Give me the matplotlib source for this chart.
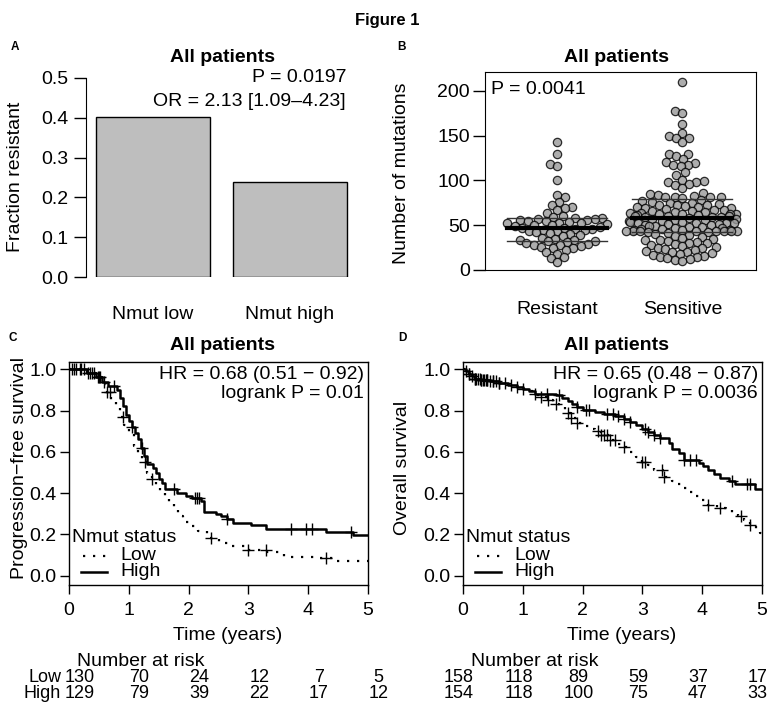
import numpy as np
import matplotlib
matplotlib.use('Agg')
import matplotlib.pyplot as plt
from matplotlib.lines import Line2D

plt.rcParams['font.family'] = ['Liberation Sans', 'DejaVu Sans']

W, H = 774, 713

# ---- panel A: fraction resistant
groups_a = ['Nmut low', 'Nmut high']
frac_resistant = [0.402, 0.239]

# ---- panel B: number of mutations per patient
mut_resistant = [143, 129, 118, 116, 101, 84, 81, 76, 73, 70, 69, 67, 64, 60, 59, 58,
                 58, 57, 57, 56, 56, 55, 55, 54, 53, 52, 52, 51, 50, 50, 49, 48, 47,
                 47, 46, 46, 45, 45, 44, 43, 42, 41, 40, 39, 38, 36, 35, 34, 33, 32,
                 32, 31, 30, 29, 28, 28, 27, 26, 25, 24, 22, 20, 18, 14, 13, 9]
mut_sensitive = [210, 178, 175, 163, 153, 150, 147, 147, 143, 130, 130, 127, 124,
                 120, 119, 117, 117, 116, 109, 106, 101, 99, 98, 98, 96, 95, 92,
                 86, 85, 84, 83, 82, 82, 81, 81, 80,
                 78, 77, 76, 75, 75, 74, 73, 73, 72, 71, 70, 70, 69, 69, 68, 67, 67,
                 66, 66, 65, 65, 64, 64, 63, 63, 62, 62, 61, 61, 60, 60, 60, 59, 59,
                 59, 58,
                 57, 57, 56, 56, 55, 55, 54, 54, 53, 53, 52, 52, 51, 51, 50, 50, 49,
                 49, 48, 48, 47, 47, 46, 46, 45, 45, 45, 44, 44, 44, 43, 43, 43, 43, 43,
                 42, 42, 41, 40, 39, 38, 37, 36, 35, 34, 33, 32, 31, 30, 30, 29, 28,
                 27, 26, 25, 24, 23, 22, 21, 20, 20, 19, 18, 17, 16, 15, 14, 13, 12,
                 11, 10]
groups_b = ['Resistant', 'Sensitive']

# ---- panel C: progression-free survival (step times / survival after step)
pfs_low_t = [0, 0.3, 0.45, 0.55, 0.62, 0.7, 0.78, 0.85, 0.92, 1.0, 1.08, 1.15, 1.22,
             1.3, 1.38, 1.45, 1.52, 1.6, 1.68, 1.75, 1.82, 1.9, 2.0, 2.15, 2.3, 2.5,
             2.7, 2.95, 3.3, 3.6, 4.2, 4.45]
pfs_low_s = [1.0, 0.98, 0.96, 0.93, 0.89, 0.85, 0.81, 0.77, 0.73, 0.69, 0.63, 0.59,
             0.55, 0.50, 0.47, 0.44, 0.41, 0.38, 0.35, 0.32, 0.29, 0.26, 0.24, 0.215,
             0.185, 0.16, 0.145, 0.125, 0.115, 0.093, 0.085, 0.072]
pfs_low_cens = [0.08, 0.2, 0.35, 0.5, 0.63, 0.68, 0.91, 1.27, 1.39, 2.37, 3.0, 3.29, 4.3]
pfs_high_t = [0, 0.3, 0.45, 0.55, 0.65, 0.8, 0.85, 0.9, 0.95, 1.0, 1.05, 1.1, 1.15,
              1.2, 1.25, 1.3, 1.4, 1.45, 1.5, 1.55, 1.6, 1.8, 1.95, 2.05, 2.2, 2.25,
              2.45, 2.55, 2.65, 2.75, 3.05, 3.3, 4.3, 4.75]
pfs_high_s = [1.0, 0.98, 0.96, 0.94, 0.92, 0.90, 0.86, 0.82, 0.78, 0.75, 0.72, 0.69,
              0.66, 0.62, 0.58, 0.54, 0.52, 0.50, 0.47, 0.45, 0.42, 0.40, 0.385, 0.375,
              0.36, 0.31, 0.30, 0.29, 0.275, 0.255, 0.245, 0.225, 0.21, 0.197]
pfs_high_cens = [0.05, 0.12, 0.18, 0.25, 0.32, 0.38, 0.42, 0.48, 0.52, 0.58, 0.75,
                 1.05, 1.22, 1.75, 2.1, 2.14, 2.18, 2.65, 3.72, 3.97, 4.06, 4.72]
risk_pfs_low = [130, 70, 24, 12, 7, 5]
risk_pfs_high = [129, 79, 39, 22, 17, 12]

# ---- panel D: overall survival
os_low_t = [0, 0.05, 0.1, 0.15, 0.2, 0.3, 0.45, 0.6, 0.75, 0.9, 1.0, 1.1, 1.2, 1.3,
            1.4, 1.5, 1.6, 1.7, 1.8, 1.9, 2.0, 2.1, 2.2, 2.3, 2.45, 2.6, 2.7, 2.8,
            2.9, 3.0, 3.1, 3.2, 3.35, 3.5, 3.6, 3.7, 3.8, 3.9, 4.0, 4.1, 4.25, 4.4,
            4.5, 4.6, 4.7, 4.8, 4.9, 4.97]
os_low_s = [1.0, 0.99, 0.975, 0.965, 0.955, 0.95, 0.945, 0.935, 0.925, 0.915, 0.905,
            0.895, 0.875, 0.865, 0.85, 0.83, 0.815, 0.79, 0.765, 0.74, 0.725, 0.712,
            0.70, 0.68, 0.655, 0.64, 0.625, 0.60, 0.575, 0.55, 0.535, 0.51, 0.48,
            0.46, 0.445, 0.425, 0.405, 0.385, 0.365, 0.345, 0.33, 0.32, 0.305, 0.29,
            0.27, 0.245, 0.225, 0.205]
os_low_cens = [0.1, 0.2, 0.3, 0.4, 0.5, 0.6, 1.3, 1.42, 1.55, 1.75, 1.8, 1.9, 2.25,
               2.3, 2.35, 2.4, 2.45, 2.55, 2.7, 3.0, 3.04, 3.32, 3.36, 4.1, 4.3, 4.65,
               4.8]
os_high_t = [0, 0.05, 0.1, 0.15, 0.2, 0.3, 0.45, 0.6, 0.75, 0.9, 1.0, 1.1, 1.2, 1.55,
             1.65, 1.75, 1.82, 1.9, 2.0, 2.2, 2.35, 2.55, 2.7, 2.8, 2.9, 3.0, 3.1, 3.2,
             3.3, 3.45, 3.5, 3.62, 3.7, 3.95, 4.02, 4.1, 4.2, 4.3, 4.45, 4.55, 4.88]
os_high_s = [1.0, 0.99, 0.975, 0.965, 0.955, 0.95, 0.945, 0.935, 0.925, 0.915, 0.905,
             0.895, 0.88, 0.875, 0.86, 0.845, 0.83, 0.815, 0.805, 0.795, 0.785, 0.775,
             0.76, 0.745, 0.73, 0.71, 0.695, 0.68, 0.665, 0.645, 0.615, 0.595, 0.56,
             0.545, 0.53, 0.51, 0.495, 0.475, 0.46, 0.445, 0.42]
os_high_cens = [0.05, 0.1, 0.15, 0.2, 0.22, 0.25, 0.28, 0.3, 0.33, 0.35, 0.38, 0.4,
                0.45, 0.5, 0.55, 0.6, 0.7, 0.8, 0.9, 1.0, 1.2, 1.4, 1.6, 1.9, 2.05,
                2.1, 2.4, 2.5, 2.6, 2.7, 2.8, 3.05, 3.1, 3.2, 3.3, 3.7, 3.8, 3.9, 4.5,
                4.75, 4.8]
risk_os_low = [158, 118, 89, 59, 37, 17]
risk_os_high = [154, 118, 100, 75, 47, 33]
risk_times = [0, 1, 2, 3, 4, 5]

FS = 14
fig = plt.figure(figsize=(W / 100, H / 100), dpi=100)


def T(x, y, s, **kw):
    kw.setdefault('va', 'center')
    kw.setdefault('fontsize', FS)
    return fig.text(x / W, 1 - y / H, s, **kw)


def axes_px(l, t, r, b):
    return fig.add_axes([l / W, 1 - b / H, (r - l) / W, (b - t) / H])


def swarm(vals, center, d, kx, ky, corral):
    """beeswarm: each point as close to the centre as it can, then
    points outside the corral wrap back inside it"""
    ypx = np.asarray(vals, float) * ky
    xs = np.zeros(len(ypx))
    px_, py_ = [], []
    for i in np.argsort(ypx, kind='stable'):
        y = ypx[i]
        cands = [0.0]
        for a, b in zip(px_, py_):
            dy = abs(b - y)
            if dy < d:
                dx = np.sqrt(d * d - dy * dy)
                cands += [a - dx, a + dx]
        cands.sort(key=abs)
        for c in cands:
            if all((c - a) ** 2 + (y - b) ** 2 >= d * d - 1e-6 for a, b in zip(px_, py_)):
                break
        xs[i] = c
        px_.append(c)
        py_.append(y)
    xs = np.mod(xs + corral, 2 * corral) - corral
    return center + xs / kx


T(387, 20, 'Figure 1', ha='center', fontsize=12, fontweight='bold')
for lab, x, y in [('A', 15, 47), ('B', 402, 47), ('C', 13, 338), ('D', 402, 338)]:
    T(x, y, lab, ha='center', fontsize=8.5, fontweight='bold')

# ---------------- A
ax = axes_px(86, 78, 357, 277)
xpos = [0.7, 1.9]
ax.bar(xpos, frac_resistant, width=1.0, color='#bebebe', edgecolor='black', lw=1)
ax.set_xlim(0.112, 2.488)
ax.set_ylim(0, 0.5)
for s in ['top', 'right', 'bottom']:
    ax.spines[s].set_visible(False)
ax.spines['left'].set_bounds(0, 0.5)
ax.set_yticks(np.arange(0, 0.51, 0.1))
ax.set_yticklabels(['%.1f' % v for v in np.arange(0, 0.51, 0.1)])
ax.set_xticks(xpos)
ax.set_xticklabels(groups_a)
ax.tick_params(axis='y', length=9, width=1, pad=3.5, labelsize=FS)
ax.tick_params(axis='x', length=0, pad=21, labelsize=FS)
ax.patch.set_visible(False)
T(222, 57, 'All patients', ha='center', fontweight='bold')
T(346, 78, 'P = 0.0197', ha='right')
T(346, 102, 'OR = 2.13 [1.09–4.23]', ha='right')
T(16, 177, 'Fraction resistant', ha='center', rotation=90)

# ---------------- B
ax = axes_px(485, 72, 756, 270)
ax.set_xlim(0.42, 2.59)
ax.set_ylim(0, 221)
kx = 271 / (2.59 - 0.42)
ky = 198 / 221
for k, vals in enumerate([mut_resistant, mut_sensitive]):
    xs = swarm(vals, k + 1, 7.6, kx, ky, 0.45 * kx)
    ax.scatter(xs, vals, s=36, facecolor='#999999', edgecolor='black', lw=0.9,
               alpha=0.8, zorder=2)
    q1, med, q3 = np.percentile(vals, [25, 50, 75])
    ax.plot([k + 0.6, k + 1.4], [q1, q1], color='#333333', lw=1, zorder=3)
    ax.plot([k + 0.6, k + 1.4], [q3, q3], color='#333333', lw=1, zorder=3)
    ax.plot([k + 0.6, k + 1.4], [med, med], color='black', lw=3, zorder=3)
ax.set_yticks([0, 50, 100, 150, 200])
ax.set_xticks([1, 2])
ax.set_xticklabels(groups_b)
ax.tick_params(axis='y', length=8.6, width=1, pad=2.2, labelsize=FS)
ax.tick_params(axis='x', length=0, pad=22, labelsize=FS)
T(617, 57, 'All patients', ha='center', fontweight='bold')
T(491, 90, 'P = 0.0041', ha='left')
T(402, 173, 'Number of mutations', ha='center', rotation=90)


# ---------------- C & D
def km(ax, t, s, cens, style):
    t = np.asarray(list(t) + [5.0])
    s = np.asarray(list(s) + [s[-1]])
    ax.plot(t, s, drawstyle='steps-post', color='black', **style)
    idx = np.searchsorted(t, cens, side='right') - 1
    ax.plot(cens, s[idx], '+', color='black', ms=8, mew=1, ls='none')


dotted = dict(lw=1.6, ls=(0, (1, 3.5)))
solid = dict(lw=1.8, ls='-')

panels = [
    (69, 368, pfs_low_t, pfs_low_s, pfs_low_cens, pfs_high_t, pfs_high_s, pfs_high_cens,
     'HR = 0.68 (0.51 − 0.92)', 'logrank P = 0.01', 'Progression−free survival',
     risk_pfs_low, risk_pfs_high, 0.18),
    (463, 762, os_low_t, os_low_s, os_low_cens, os_high_t, os_high_s, os_high_cens,
     'HR = 0.65 (0.48 − 0.87)', 'logrank P = 0.0036', 'Overall survival',
     risk_os_low, risk_os_high, -0.07),
]
for (l, r, lt, ls_, lc, ht, hs, hc, hr, lr, ylab, rl, rh, off) in panels:
    ax = axes_px(l, 362, r, 585)
    ax.set_xlim(0, 5)
    ax.set_ylim(-0.0446, 1.035)
    km(ax, lt, ls_, lc, dotted)
    km(ax, ht, hs, hc, solid)
    ax.set_xticks(risk_times)
    ax.set_yticks(np.arange(0, 1.01, 0.2))
    ax.set_yticklabels(['%.1f' % v for v in np.arange(0, 1.01, 0.2)])
    ax.tick_params(axis='y', length=6.3, width=1, pad=2.5, labelsize=FS)
    ax.tick_params(axis='x', length=6.3, width=1, pad=6, labelsize=FS)
    for sp in ax.spines.values():
        sp.set_linewidth(1)
    cx = (l + r) / 2
    T(cx + 4, 345, 'All patients', ha='center', fontweight='bold')
    T(r - 4, 375, hr, ha='right')
    T(r - 4, 393, lr, ha='right')
    T(l - 49 if l < 100 else l - 60, 468, ylab, ha='center', rotation=90)
    # legend
    T(l + 3, 538, 'Nmut status', ha='left')
    T(l + 51, 556, 'Low', ha='left')
    T(l + 51, 572, 'High', ha='left')
    fig.add_artist(Line2D([(l + 14) / W, (l + 40) / W], [1 - 556 / H] * 2,
                          color='black', transform=fig.transFigure, **dotted))
    fig.add_artist(Line2D([(l + 12) / W, (l + 38) / W], [1 - 572 / H] * 2,
                          color='black', transform=fig.transFigure, **solid))
    # x label and number at risk
    T(cx + 9, 635, 'Time (years)', ha='center')
    T(cx - 78, 662, 'Number at risk', ha='center')
    kxp = (r - l) / 5
    for tt, a, b in zip(risk_times, rl, rh):
        T(l + (tt + off) * kxp, 678, str(a), ha='center', fontsize=13)
        T(l + (tt + off) * kxp, 693, str(b), ha='center', fontsize=13)
    if l < 100:
        T(61, 678, 'Low', ha='right', fontsize=13)
        T(61, 693, 'High', ha='right', fontsize=13)

fig.savefig('out.png', dpi=100)
